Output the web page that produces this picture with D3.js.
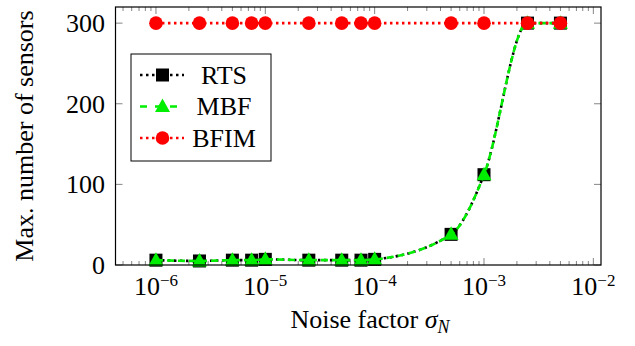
<!DOCTYPE html>
<html>
<head>
<meta charset="utf-8">
<script src="https://cdn.jsdelivr.net/npm/d3@7"></script>
<style>
  body { margin: 0; background: #fff; }
</style>
</head>
<body>
<script>
const W = 635, H = 346;
const margin = {left: 115.5, right: 34, top: 7, bottom: 81};
const FONT = "'Liberation Serif', 'Times New Roman', serif";

// noise factors on the x axis
var noise = [1e-6, 2.5e-6, 5e-6, 7.5e-6, 1e-5, 2.5e-5, 5e-5, 7.5e-5, 1e-4, 5e-4, 1e-3, 2.5e-3, 5e-3];
var rts  = [6, 5, 6, 6, 7, 6, 6, 6, 7, 38, 112, 300, 300];
var mbf  = [6, 5, 6, 6, 7, 6, 6, 6, 7, 38, 112, 300, 300];
var bfim = [300, 300, 300, 300, 300, 300, 300, 300, 300, 300, 300, 300, 300];
var xTickExp = [-6, -5, -4, -3, -2];
var yTicks = [0, 100, 200, 300];

const svg = d3.select("body").append("svg")
  .attr("width", W).attr("height", H)
  .attr("font-family", FONT);

const x = d3.scaleLog()
  .domain([Math.pow(10, -6.37), Math.pow(10, -1.93)])
  .range([margin.left, W - margin.right]);
const y = d3.scaleLinear()
  .domain([0, 320])
  .range([H - margin.bottom, margin.top]);

const x0 = margin.left, x1 = W - margin.right;
const y0 = H - margin.bottom, y1 = margin.top;

// minor ticks (2..9 every decade)
var minor = [];
for (let e = -7; e <= -2; e++) {
  for (let k = 2; k <= 9; k++) {
    let v = k * Math.pow(10, e);
    if (v > x.domain()[0] && v < x.domain()[1]) minor.push(v);
  }
}
const tickG = svg.append("g").attr("stroke", "#777").attr("stroke-width", 0.9);
minor.forEach(v => {
  tickG.append("line").attr("x1", x(v)).attr("x2", x(v)).attr("y1", y0).attr("y2", y0 - 4);
  tickG.append("line").attr("x1", x(v)).attr("x2", x(v)).attr("y1", y1).attr("y2", y1 + 4);
});
xTickExp.forEach(e => {
  let v = Math.pow(10, e);
  if (x(v) > x1) return;
  tickG.append("line").attr("x1", x(v)).attr("x2", x(v)).attr("y1", y0).attr("y2", y0 - 7);
  tickG.append("line").attr("x1", x(v)).attr("x2", x(v)).attr("y1", y1).attr("y2", y1 + 7);
});
yTicks.forEach(v => {
  tickG.append("line").attr("x1", x0).attr("x2", x0 + 7).attr("y1", y(v)).attr("y2", y(v));
  tickG.append("line").attr("x1", x1).attr("x2", x1 - 7).attr("y1", y(v)).attr("y2", y(v));
});

// x tick labels 10^e
xTickExp.forEach(e => {
  const t = svg.append("text")
    .attr("x", x(Math.pow(10, e)))
    .attr("y", 295)
    .attr("text-anchor", "middle")
    .attr("font-size", 26);
  t.append("tspan").text("10");
  t.append("tspan").attr("dy", -9).attr("font-size", 17).text("\u2212" + (-e));
});

// y tick labels
yTicks.forEach(v => {
  svg.append("text")
    .attr("x", 105).attr("y", y(v) + 9)
    .attr("text-anchor", "end")
    .attr("font-size", 26)
    .text(v);
});

// axis titles
const xl = svg.append("text")
  .attr("x", 370).attr("y", 328)
  .attr("text-anchor", "middle")
  .attr("font-size", 26);
xl.append("tspan").text("Noise factor ");
xl.append("tspan").attr("font-style", "italic").text("\u03c3");
xl.append("tspan").attr("dy", 5).attr("font-size", 18).attr("font-style", "italic").text("N");

svg.append("text")
  .attr("transform", "translate(33," + ((y0 + y1) / 2) + ") rotate(-90)")
  .attr("text-anchor", "middle")
  .attr("font-size", 26)
  .text("Max. number of sensors");

// series
const series = [
  {name: "RTS", vals: rts, color: "#000", dash: "2.5,3.5", legDash: "2.5,3.5", marker: "square"},
  {name: "MBF", vals: mbf, color: "#00ee00", dash: "7,4", legDash: "7,8", marker: "triangle"},
  {name: "BFIM", vals: bfim, color: "#ff0000", dash: "2.5,3.5", legDash: "2.5,3.5", marker: "circle"}
];

const line = d3.line()
  .x((d, i) => x(noise[i]))
  .y(d => y(d))
  .curve(d3.curveMonotoneX);

function drawMarker(g, kind, cx, cy, color) {
  if (kind === "square") {
    g.append("rect").attr("x", cx - 6.5).attr("y", cy - 6.5)
      .attr("width", 13).attr("height", 13).attr("fill", color);
  } else if (kind === "triangle") {
    g.append("path")
      .attr("d", `M${cx},${cy - 8} L${cx + 7.5},${cy + 5.5} L${cx - 7.5},${cy + 5.5} Z`)
      .attr("fill", color);
  } else {
    g.append("circle").attr("cx", cx).attr("cy", cy).attr("r", 6.8).attr("fill", color);
  }
}

series.forEach(s => {
  svg.append("path")
    .attr("d", line(s.vals))
    .attr("fill", "none")
    .attr("stroke", s.color)
    .attr("stroke-width", 2.6)
    .attr("stroke-dasharray", s.dash);
  const g = svg.append("g");
  s.vals.forEach((v, i) => drawMarker(g, s.marker, x(noise[i]), y(v), s.color));
});

// frame
svg.append("rect")
  .attr("x", x0).attr("y", y1)
  .attr("width", x1 - x0).attr("height", y0 - y1)
  .attr("fill", "none").attr("stroke", "#000").attr("stroke-width", 1.2);

// legend
const leg = svg.append("g");
leg.append("rect")
  .attr("x", 131).attr("y", 54).attr("width", 140).attr("height", 107)
  .attr("fill", "#fff").attr("stroke", "#000").attr("stroke-width", 1);
series.forEach((s, i) => {
  const ly = 75 + i * 31.5;
  leg.append("line")
    .attr("x1", 140).attr("x2", 184).attr("y1", ly).attr("y2", ly)
    .attr("stroke", s.color).attr("stroke-width", 2.6)
    .attr("stroke-dasharray", s.legDash);
  drawMarker(leg, s.marker, 162.5, ly, s.color);
  leg.append("text")
    .attr("x", 224).attr("y", ly + 8.5)
    .attr("text-anchor", "middle")
    .attr("font-size", 26)
    .text(s.name);
});
</script>
</body>
</html>
